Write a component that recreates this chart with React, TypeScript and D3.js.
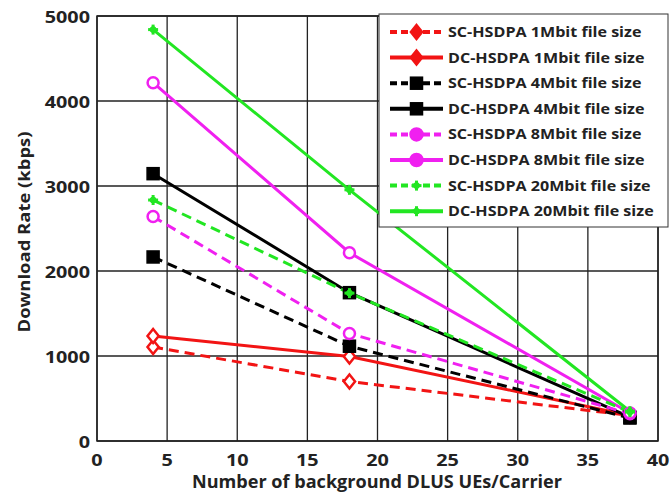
import React from 'react';
import * as d3 from 'd3';

const xValues = [4, 18, 38];
const seriesNames = [
  'SC-HSDPA 1Mbit file size',
  'DC-HSDPA 1Mbit file size',
  'SC-HSDPA 4Mbit file size',
  'DC-HSDPA 4Mbit file size',
  'SC-HSDPA 8Mbit file size',
  'DC-HSDPA 8Mbit file size',
  'SC-HSDPA 20Mbit file size',
  'DC-HSDPA 20Mbit file size',
];
const sc1 = [1105, 700, 300];
const dc1 = [1235, 995, 300];
const sc4 = [2165, 1115, 270];
const dc4 = [3145, 1745, 280];
const sc8 = [2640, 1265, 320];
const dc8 = [4215, 2215, 330];
const sc20 = [2835, 1740, 340];
const dc20 = [4840, 2955, 350];
const xTicks = [0, 5, 10, 15, 20, 25, 30, 35, 40];
const yTicks = [0, 1000, 2000, 3000, 4000, 5000];

const values = [sc1, dc1, sc4, dc4, sc8, dc8, sc20, dc20];
const colors = ['#f21414', '#f21414', '#000', '#000', '#f020f0', '#f020f0', '#22e622', '#22e622'];
const markers = ['diamond', 'diamond', 'square', 'square', 'circle', 'circle', 'plus', 'plus'];

const W = 671;
const H = 495;
const m = { left: 97, right: 13, top: 16, bottom: 54 };
const FONT = '"Open Sans", sans-serif';
const SX = 1.2; // the original's text is stretched sideways

function Marker({ kind, x, y, c, legend }: { kind: string; x: number; y: number; c: string; legend?: boolean }) {
  if (kind === 'diamond') {
    const s = 7;
    return <path d={`M${x},${y - s}L${x + s * 0.8},${y}L${x},${y + s}L${x - s * 0.8},${y}Z`} fill={legend ? c : '#fff'} stroke={c} strokeWidth={2.5} />;
  }
  if (kind === 'square') {
    return <rect x={x - 6} y={y - 6} width={12} height={12} fill="#000" stroke="#000" strokeWidth={1.5} />;
  }
  if (kind === 'circle') {
    return <circle cx={x} cy={y} r={legend ? 6 : 5.5} fill={legend ? c : '#fff'} stroke={c} strokeWidth={2.5} />;
  }
  return (
    <g stroke={c} strokeWidth={3}>
      <line x1={x - 5} x2={x + 5} y1={y} y2={y} />
      <line x1={x} x2={x} y1={y - 5} y2={y + 5} />
      <circle cx={x} cy={y} r={3} fill={c} strokeWidth={1} />
    </g>
  );
}

export default function App() {
  const x = d3.scaleLinear().domain([0, 40]).range([m.left, W - m.right]);
  const y = d3.scaleLinear().domain([0, 5000]).range([H - m.bottom, m.top]);
  const line = d3
    .line<number>()
    .x((_, i) => x(xValues[i]))
    .y((d) => y(d));

  const legendX = 379;
  const legendY = 14;
  const rowH = 25.6;

  return (
    <svg width={W} height={H} style={{ position: 'absolute', left: 0, top: 0, background: '#fff' }} fontFamily={FONT}>
      {/* grid */}
      {xTicks.map((t) => (
        <line key={'gx' + t} x1={x(t)} x2={x(t)} y1={y(0)} y2={y(5000)} stroke="#222" strokeWidth={1.3} />
      ))}
      {yTicks.map((t) => (
        <line key={'gy' + t} x1={x(0)} x2={x(40)} y1={y(t)} y2={y(t)} stroke="#222" strokeWidth={1.3} />
      ))}
      <rect x={x(0)} y={y(5000)} width={x(40) - x(0)} height={y(0) - y(5000)} fill="none" stroke="#222" strokeWidth={1.5} />

      {/* series */}
      {values.map((v, i) => (
        <path
          key={'l' + i}
          d={line(v) || ''}
          fill="none"
          stroke={colors[i]}
          strokeWidth={3}
          strokeDasharray={i % 2 === 0 ? '10,6' : undefined}
        />
      ))}
      {values.map((v, i) => (
        <g key={'m' + i}>
          {v.map((d, j) => (
            <Marker key={j} kind={markers[i]} x={x(xValues[j])} y={y(d)} c={colors[i]} />
          ))}
        </g>
      ))}

      {/* tick labels */}
      {xTicks.map((t) => (
        <text key={'tx' + t} transform={`translate(${x(t)},${y(0) + 25}) scale(${SX},1)`} textAnchor="middle" fontSize={16.5} fontWeight="bold" fill="#222">
          {t}
        </text>
      ))}
      {yTicks.map((t) => (
        <text key={'ty' + t} transform={`translate(${x(0) - 7},${y(t) + 6.5}) scale(${SX},1)`} textAnchor="end" fontSize={16.5} fontWeight="bold" fill="#222">
          {t}
        </text>
      ))}
      <text x={377} y={488} textAnchor="middle" fontSize={17} fontWeight="bold" fill="#222" textLength={370} lengthAdjust="spacingAndGlyphs">
        Number of background DLUS UEs/Carrier
      </text>
      <text transform={`translate(30,232) rotate(-90)`} textAnchor="middle" fontSize={16} fontWeight="bold" fill="#222" textLength={201} lengthAdjust="spacingAndGlyphs">
        Download Rate (kbps)
      </text>

      {/* legend */}
      <rect x={legendX} y={legendY} width={289} height={213} fill="#fff" stroke="#333" strokeWidth={1} />
      {seriesNames.map((name, i) => {
        const cy = legendY + 18 + i * rowH;
        return (
          <g key={'lg' + i}>
            <line
              x1={390}
              x2={443}
              y1={cy}
              y2={cy}
              stroke={colors[i]}
              strokeWidth={4}
              strokeDasharray={i % 2 === 0 ? '7,4' : undefined}
            />
            <Marker kind={markers[i]} x={416.5} y={cy} c={colors[i]} legend />
            <text transform={`translate(448,${cy + 5}) scale(1.15,1)`} fontSize={14} fontWeight="bold" fill="#222">
              {name}
            </text>
          </g>
        );
      })}
    </svg>
  );
}
